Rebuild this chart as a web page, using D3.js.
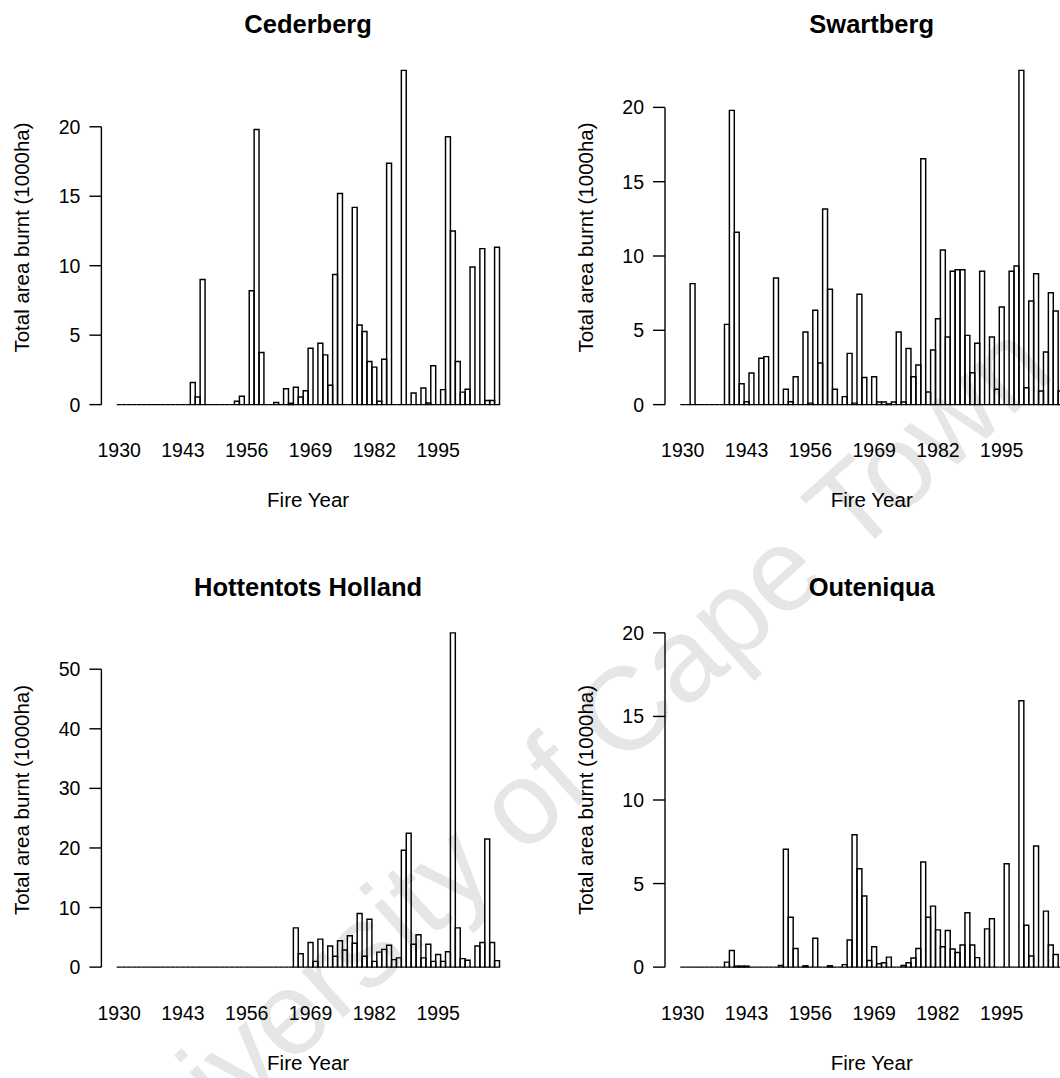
<!DOCTYPE html>
<html>
<head>
<meta charset="utf-8">
<script src="https://cdn.jsdelivr.net/npm/d3@7"></script>
<style>
body{margin:0;background:#fff;}
svg{display:block;}
text{font-family:"Liberation Sans",Arial,Helvetica,sans-serif;fill:#000;}
</style>
</head>
<body>
<svg></svg>
<script>
const width = 1060;
const height = 1078;

// years on the bar axis, and the ones R had room to label
const years = d3.range(1930, 2008);
const yearLabels = [1930, 1943, 1956, 1969, 1982, 1995];

// total area burnt per fire year (1000 ha), 1930..2007
const cederberg = [
	0,0,0,0,0,0,0,0,0,0,
	0,0,0,0,0,1.6,0.55,9.0,0,0,
	0,0,0,0,0.25,0.6,0,8.2,19.8,3.75,
	0,0,0.15,0,1.15,0.1,1.25,0.55,1.0,4.06,
	0,4.42,3.58,1.39,9.37,15.2,0,0,14.2,5.73,
	5.26,3.1,2.7,0.24,3.27,17.37,0,0,24.06,0,
	0.84,0,1.2,0.12,2.8,0,1.08,19.28,12.5,3.1,
	0.9,1.1,9.9,0,11.23,0.3,0.3,11.33
];
const swartberg = [
	0,0,8.14,0,0,0,0,0,0,5.4,
	19.8,11.6,1.41,0.2,2.13,0,3.12,3.23,0,8.52,
	0,1.03,0.2,1.88,0,4.89,0.1,6.35,2.8,13.16,
	7.76,1.03,0,0.54,3.45,0.1,7.42,1.82,0,1.88,
	0.18,0.18,0.05,0.18,4.89,0.18,3.77,1.88,2.67,16.55,
	0.85,3.68,5.78,10.4,4.55,8.97,9.08,9.08,4.66,2.15,
	4.13,8.97,0,4.55,1.03,6.57,0,8.97,9.33,22.49,
	1.14,6.97,8.81,0.92,3.54,7.53,6.3,0.92
];
const hottentotsHolland = [
	0,0,0,0,0,0,0,0,0,0,
	0,0,0,0,0,0,0,0,0,0,
	0,0,0,0,0,0,0,0,0,0,
	0,0,0,0,0,0,6.59,2.24,0,4.13,
	0.97,4.7,0,3.56,1.83,4.42,2.87,5.28,4.01,9.0,
	1.83,8.03,0.97,2.52,2.98,3.67,1.26,1.55,19.6,22.48,
	3.84,5.45,1.55,3.84,0.97,2.12,0.97,2.58,56.1,6.59,
	1.43,1.15,0,3.56,4.13,21.5,4.13,1.09
];
const outeniqua = [
	0,0,0,0,0,0,0,0,0,0.3,
	1.0,0.06,0.06,0.06,0,0,0,0,0,0,
	0.1,7.05,2.98,1.12,0,0.08,0,1.73,0,0,
	0.08,0,0,0.15,1.62,7.92,5.89,4.26,0.4,1.22,
	0.2,0.26,0.6,0,0,0.1,0.26,0.55,1.12,6.29,
	2.98,3.65,2.23,1.22,2.19,1.08,0.87,1.32,3.25,1.32,
	0.57,0,2.29,2.9,0,0,6.19,0,0,15.94,
	2.5,0.67,7.25,0,3.35,1.32,0.75,0
];

const ticksBy5 = [0, 5, 10, 15, 20];
const ticksBy10 = [0, 10, 20, 30, 40, 50];

// panel table built from the arrays above; ymax null = use the data max
const panels = [
	{title:'Cederberg', values:cederberg, ticks:ticksBy5, ymax:null, col:0, row:0},
	{title:'Swartberg', values:swartberg, ticks:ticksBy5, ymax:null, col:1, row:0},
	{title:'Hottentots Holland', values:hottentotsHolland, ticks:ticksBy10, ymax:null, col:0, row:1},
	{title:'Outeniqua', values:outeniqua, ticks:ticksBy5, ymax:20, col:1, row:1}
];

// plot regions (R par layout)
const plotLeft = [101.4, 665];
const plotTop = [57, 619.5];
const plotW = 413.4;
const plotH = 361;

var svg;

function barPath(x, y, d){
	var x0 = x(d.year), x1 = x0 + x.bandwidth();
	var y0 = y(0), y1 = y(d.value);
	return 'M'+x0+','+y0+'V'+y1+'H'+x1+'V'+y0+'Z';
}

function drawPanel(p){
	var left = plotLeft[p.col];
	var top = plotTop[p.row];
	var g = svg.append('g');
	var n = years.length;
	var ymax = p.ymax == null ? d3.max(p.values) : p.ymax;

	// R style 4% padding on both axes
	var xLin = d3.scaleLinear().domain([-0.04*n, 1.04*n]).range([left, left+plotW]);
	var x = d3.scaleBand().domain(years).range([xLin(0), xLin(n)]).padding(0);
	var y = d3.scaleLinear().domain([-0.04*ymax, 1.04*ymax]).range([top+plotH, top]);

	var data = years.map((yr, i) => ({year: yr, value: p.values[i]}));

	// paths, not rects, so zero years still leave the flat outline
	g.selectAll('path.bar')
	.data(data).enter().append('path')
	.classed('bar', true)
	.attr('d', d => barPath(x, y, d))
	.attr('fill', 'none')
	.attr('stroke', '#000')
	.attr('stroke-width', 1.45);

	// y axis, R draws from first to last tick
	var ax = g.append('g').attr('transform', 'translate('+left+',0)');
	ax.append('line')
	.attr('y1', y(p.ticks[0])).attr('y2', y(p.ticks[p.ticks.length-1]))
	.attr('stroke', '#000').attr('stroke-width', 1.4);
	ax.selectAll('line.tick')
	.data(p.ticks).enter().append('line')
	.classed('tick', true)
	.attr('x1', -12).attr('x2', 0)
	.attr('y1', d => y(d)).attr('y2', d => y(d))
	.attr('stroke', '#000').attr('stroke-width', 1.4);
	ax.selectAll('text')
	.data(p.ticks).enter().append('text')
	.attr('x', -21).attr('y', d => y(d)).attr('dy', '0.36em')
	.attr('text-anchor', 'end')
	.style('font-size', '19.5px')
	.text(d => d);

	// year names under the bars
	g.selectAll('text.year')
	.data(yearLabels).enter().append('text')
	.classed('year', true)
	.attr('x', d => x(d) + x.bandwidth()/2)
	.attr('y', top + plotH + 39)
	.attr('text-anchor', 'middle')
	.style('font-size', '19.5px')
	.text(d => d);

	g.append('text')
	.attr('x', left + plotW/2).attr('y', top - 24)
	.attr('text-anchor', 'middle')
	.style('font-size', '25.5px').style('font-weight', 'bold')
	.text(p.title);

	g.append('text')
	.attr('x', left + plotW/2).attr('y', top + plotH + 89)
	.attr('text-anchor', 'middle')
	.style('font-size', '20.5px')
	.text('Fire Year');

	g.append('text')
	.attr('transform', 'translate('+(left-72.5)+','+(top+plotH/2)+') rotate(-90)')
	.attr('text-anchor', 'middle')
	.style('font-size', '20.5px')
	.text('Total area burnt (1000ha)');
}

function init(){
	svg = d3.select('svg').attr('width', width).attr('height', height);

	svg.append('rect').attr('width', width).attr('height', height).attr('fill', '#fff');

	// scanned thesis watermark, sits under the plots
	svg.append('text')
	.attr('transform', 'translate(585,800) rotate(-42)')
	.attr('text-anchor', 'middle')
	.style('font-size', '118px')
	.style('fill', '#e6e6e6')
	.text('University of Cape Town');

	for(var p of panels){
		drawPanel(p);
	}
}

init();
</script>
</body>
</html>
